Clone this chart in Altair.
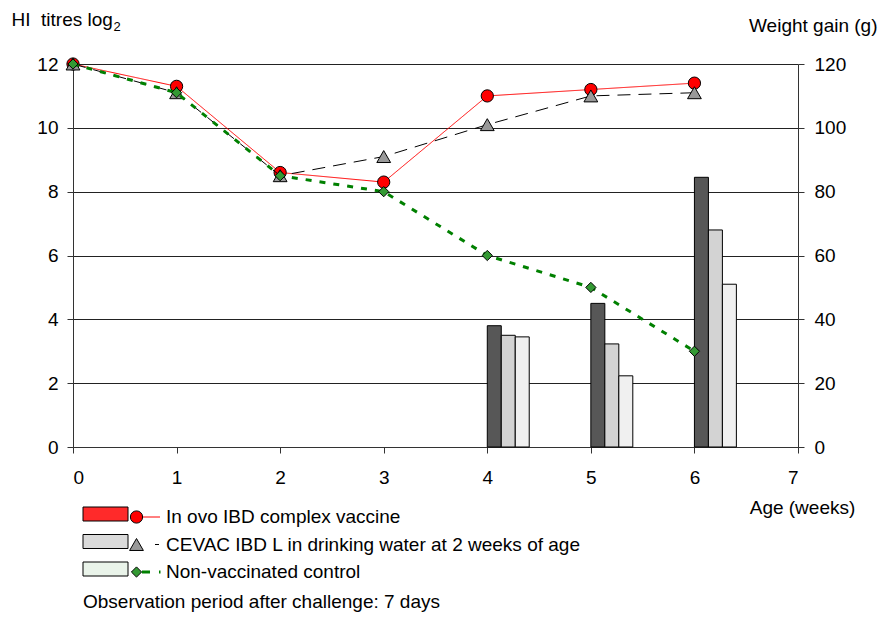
import altair as alt
import pandas as pd

# HI titres (log2) by age in weeks
weeks = [0, 1, 2, 3, 4, 5, 6]
hi_in_ovo = [12.0, 11.3, 8.6, 8.3, 11.0, 11.2, 11.4]
hi_cevac = [12.0, 11.1, 8.5, 9.1, 10.1, 11.0, 11.1]
hi_control = [12.0, 11.1, 8.5, 8.0, 6.0, 5.0, 3.0]

# Weight gain (g) after challenge
gain_weeks = [4, 5, 6]
gain_in_ovo = [38.0, 45.0, 84.5]
gain_cevac = [35.0, 32.3, 68.0]
gain_control = [34.5, 22.3, 51.0]

series = [
    "In ovo IBD complex vaccine",
    "CEVAC IBD L in drinking water at 2 weeks of age",
    "Non-vaccinated control",
]
footnote = "Observation period after challenge: 7 days"
y_title = "HI\u00a0\u00a0titres log"
y_title_sub = "2"
y2_title = "Weight gain (g)"
x_title = "Age (weeks)"
x_ticks = [0, 1, 2, 3, 4, 5, 6, 7]
y_ticks = [0, 2, 4, 6, 8, 10, 12]
y2_ticks = [0, 20, 40, 60, 80, 100, 120]

FONT = "Liberation Sans"
FS = 19
W, H = 725, 383
BAR_W = 0.135  # bar width in weeks

line_colors = ["#ff0000", "#000000", "#008000"]
line_dashes = [[1, 0], [13, 8], [6, 8]]
line_widths = [1, 1, 3]
marker_shapes = ["circle", "triangle-up", "diamond"]
marker_fills = ["#ff0000", "#999999", "#339933"]
marker_sizes = [150, 190, 105]
bar_fills = ["#575757", "#d3d3d3", "#f0f0f0"]
swatch_fills = ["#ff2a2a", "#dadada", "#eaf4ea"]

hi_values = [hi_in_ovo, hi_cevac, hi_control]
gain_values = [gain_in_ovo, gain_cevac, gain_control]

gain = pd.DataFrame(
    [
        {"week": w, "gain": v, "series": s, "k": k}
        for k, (s, vals) in enumerate(zip(series, gain_values))
        for w, v in zip(gain_weeks, vals)
    ]
)

x_scale = alt.Scale(domain=[0, 7], nice=False, zero=False)
x_axis = alt.Axis(
    values=x_ticks, grid=False, title=x_title, tickSize=6, labelPadding=15,
    domainColor="#333333", tickColor="#333333", labelFontSize=FS, labelFont=FONT,
    labelColor="black", titleFont=FONT, titleFontSize=FS, titleFontWeight="normal",
    titleColor="black", titleX=729, titleY=66, titleAlign="center",
    titleBaseline="alphabetic", format="d",
)
left_axis = alt.Axis(
    orient="left", values=y_ticks, grid=True, gridColor="#222222", gridWidth=1,
    title=None, tickSize=6, labelPadding=9, domainColor="#333333", tickColor="#333333",
    labelFontSize=FS, labelFont=FONT, labelColor="black", format="d",
)
right_axis = alt.Axis(
    orient="right", values=y2_ticks, grid=False, title=y2_title, tickSize=6,
    labelPadding=10, domainColor="#333333", tickColor="#333333", labelFontSize=FS,
    labelFont=FONT, labelColor="black", titleFont=FONT, titleFontSize=FS,
    titleFontWeight="normal", titleColor="black", titleAngle=0, titleAlign="right",
    titleBaseline="alphabetic", titleX=79, titleY=-33, format="d",
)

bars = (
    alt.Chart(gain)
    .transform_calculate(
        x0=f"datum.week + datum.k * {BAR_W}",
        x1=f"datum.week + (datum.k + 1) * {BAR_W}",
    )
    .mark_rect(stroke="black", strokeWidth=1)
    .encode(
        x=alt.X("x0:Q", scale=x_scale, axis=x_axis),
        x2="x1:Q",
        y=alt.Y("gain:Q", scale=alt.Scale(domain=[0, 120], nice=False), axis=right_axis),
        y2=alt.datum(0),
        color=alt.Color("series:N", scale=alt.Scale(domain=series, range=bar_fills), legend=None),
    )
)

y_left = alt.Y("hi:Q", scale=alt.Scale(domain=[0, 12], nice=False), axis=left_axis)
x_week = alt.X("week:Q", scale=x_scale, axis=x_axis)

# One line + marker layer per series, drawn in series order
titre_layers = []
for i, (name, vals) in enumerate(zip(series, hi_values)):
    d = pd.DataFrame({"week": weeks, "hi": vals, "series": name})
    titre_layers.append(
        alt.Chart(d).mark_line(
            color=line_colors[i], strokeWidth=line_widths[i], strokeDash=line_dashes[i]
        ).encode(x=x_week, y=y_left)
    )
    titre_layers.append(
        alt.Chart(d).mark_point(
            shape=marker_shapes[i], filled=True, fill=marker_fills[i], stroke="black",
            strokeWidth=1, size=marker_sizes[i], opacity=1,
        ).encode(x=x_week, y=y_left)
    )

plot = alt.layer(bars, alt.layer(*titre_layers)).resolve_scale(y="independent")

# Legend below the plot: swatch, marker, line sample and label per series
LEG_Y0 = 453
LEG_DY = 27.5
legend_dashes = [[1, 0], [0, 12, 4, 20], [8, 9, 1.5, 20]]
legend_line_x = [(70, 87), (70, 87), (69, 88)]
decor = []
for i, name in enumerate(series):
    py = LEG_Y0 + i * LEG_DY
    d = pd.DataFrame({"label": [name]})
    decor.append(
        alt.Chart(d).mark_rect(fill=swatch_fills[i], stroke="black", strokeWidth=1).encode(
            x=alt.value(10), x2=alt.value(55), y=alt.value(py - 10), y2=alt.value(py + 4)
        )
    )
    decor.append(
        alt.Chart(d).mark_rule(
            color=line_colors[i], strokeWidth=line_widths[i], strokeDash=legend_dashes[i]
        ).encode(x=alt.value(legend_line_x[i][0]), x2=alt.value(legend_line_x[i][1]), y=alt.value(py))
    )
    decor.append(
        alt.Chart(d).mark_point(
            shape=marker_shapes[i], filled=True, fill=marker_fills[i], stroke="black",
            strokeWidth=1, size=marker_sizes[i], opacity=1,
        ).encode(x=alt.value(63.5), y=alt.value(py))
    )
    decor.append(
        alt.Chart(d).mark_text(
            font=FONT, fontSize=FS, align="left", baseline="middle", color="black"
        ).encode(x=alt.value(93), y=alt.value(py), text="label:N")
    )

decor.append(
    alt.Chart(pd.DataFrame({"label": [footnote]})).mark_text(
        font=FONT, fontSize=FS, align="left", baseline="middle", color="black"
    ).encode(x=alt.value(10), y=alt.value(538), text="label:N")
)
decor.append(
    alt.Chart(pd.DataFrame({"label": [y_title]})).mark_text(
        font=FONT, fontSize=FS, align="left", baseline="alphabetic", color="black"
    ).encode(x=alt.value(-61.5), y=alt.value(-38), text="label:N")
)
decor.append(
    alt.Chart(pd.DataFrame({"label": [y_title_sub]})).mark_text(
        font=FONT, fontSize=13, align="left", baseline="alphabetic", color="black"
    ).encode(x=alt.value(40.5), y=alt.value(-33), text="label:N")
)

chart = (
    alt.layer(plot, *decor)
    .properties(
        width=W,
        height=H,
        padding={"left": 73, "top": 64, "right": 81, "bottom": 170},
        autosize=alt.AutoSizeParams(type="none"),
        background="white",
    )
    .configure_view(stroke=None)
)

chart.save("out.html", embed_options={"renderer": "svg", "actions": False})
